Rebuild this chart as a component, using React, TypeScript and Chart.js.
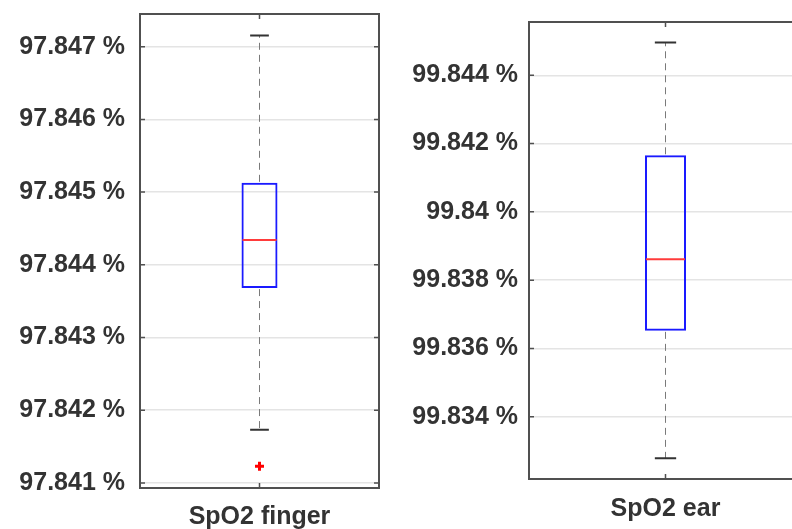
import React, { useEffect, useRef } from 'react';
import { Chart, registerables } from 'chart.js';

Chart.register(...registerables);

// ---- Data: SpO2 finger ----
const fingerCategory = ['SpO2 finger'];
const fingerBox = [97.84368, 97.845128]; // q1, q3
const fingerMedian = 97.84434;
const fingerWhiskers = [97.84173, 97.847155]; // low, high
const fingerOutliers = [97.84123];
const fingerTicks = [97.841, 97.842, 97.843, 97.844, 97.845, 97.846, 97.847];
const fingerTickLabels = ['97.841 %', '97.842 %', '97.843 %', '97.844 %', '97.845 %', '97.846 %', '97.847 %'];
const fingerRange = [97.84093, 97.84745];

// ---- Data: SpO2 ear ----
const earCategory = ['SpO2 ear'];
const earBox = [99.836515, 99.841657];
const earMedian = 99.838615;
const earWhiskers = [99.832782, 99.844957];
const earOutliers: number[] = [];
const earTicks = [99.834, 99.836, 99.838, 99.84, 99.842, 99.844];
const earTickLabels = ['99.834 %', '99.836 %', '99.838 %', '99.84 %', '99.842 %', '99.844 %'];
const earRange = [99.832176, 99.845561];

const FONT = { family: '"Liberation Sans", Arial, sans-serif', size: 25, weight: 'bold' as const };
const TEXT = '#333333';

const boxDecor = {
  id: 'boxDecor',
  afterDatasetsDraw(chart: any, _args: any, opts: any) {
    const { ctx, chartArea } = chart;
    const y = chart.scales.y;
    const bar = chart.getDatasetMeta(0).data[0];
    if (!bar) return;
    const cx = bar.x;
    const half = bar.width / 2;
    const capHalf = half * 0.52;
    const yQ1 = y.getPixelForValue(opts.box[0]);
    const yQ3 = y.getPixelForValue(opts.box[1]);
    const yLo = y.getPixelForValue(opts.whiskers[0]);
    const yHi = y.getPixelForValue(opts.whiskers[1]);
    const yMed = y.getPixelForValue(opts.median);
    ctx.save();
    // whiskers
    ctx.strokeStyle = '#7a7a7a';
    ctx.lineWidth = 1;
    ctx.setLineDash([7, 5]);
    ctx.beginPath();
    ctx.moveTo(cx, yQ3 - 1);
    ctx.lineTo(cx, yHi);
    ctx.moveTo(cx, yQ1 + 1);
    ctx.lineTo(cx, yLo);
    ctx.stroke();
    ctx.setLineDash([]);
    // caps
    ctx.strokeStyle = '#333333';
    ctx.lineWidth = 2;
    ctx.beginPath();
    ctx.moveTo(cx - capHalf, yHi);
    ctx.lineTo(cx + capHalf, yHi);
    ctx.moveTo(cx - capHalf, yLo);
    ctx.lineTo(cx + capHalf, yLo);
    ctx.stroke();
    // median
    ctx.strokeStyle = '#ff3b3b';
    ctx.lineWidth = 2;
    ctx.beginPath();
    ctx.moveTo(cx - half + 1, yMed);
    ctx.lineTo(cx + half - 1, yMed);
    ctx.stroke();
    // frame
    const { left, right, top, bottom } = chartArea;
    ctx.strokeStyle = '#505050';
    ctx.lineWidth = 2;
    ctx.strokeRect(left, top, right - left, bottom - top);
    // inward ticks
    ctx.lineWidth = 1.5;
    ctx.beginPath();
    y.ticks.forEach((t: any) => {
      const py = y.getPixelForValue(t.value);
      ctx.moveTo(left, py);
      ctx.lineTo(left + 5, py);
      ctx.moveTo(right, py);
      ctx.lineTo(right - 5, py);
    });
    ctx.moveTo(cx, top);
    ctx.lineTo(cx, top + 5);
    ctx.moveTo(cx, bottom);
    ctx.lineTo(cx, bottom - 5);
    ctx.stroke();
    ctx.restore();
  },
};

function makeConfig(p: any): any {
  return {
    type: 'bar',
    data: {
      labels: p.category,
      datasets: [
        {
          type: 'bar',
          data: [p.box],
          backgroundColor: 'rgba(0,0,0,0)',
          borderColor: '#1a1aff',
          borderWidth: 2,
          borderSkipped: false,
          barPercentage: p.barPct,
          categoryPercentage: 1,
        },
        {
          type: 'scatter',
          data: p.outliers.map((v: number) => ({ x: p.category[0], y: v })),
          pointStyle: 'cross',
          radius: 4.5,
          borderWidth: 3,
          borderColor: '#ff0000',
          backgroundColor: '#ff0000',
        },
      ],
    },
    options: {
      responsive: false,
      animation: false,
      devicePixelRatio: 1,
      events: [],
      layout: { padding: { top: p.padTop, right: p.padRight, left: 0, bottom: 0 } },
      plugins: {
        legend: { display: false },
        tooltip: { enabled: false },
        boxDecor: { box: p.box, whiskers: p.whiskers, median: p.median },
      },
      scales: {
        x: {
          type: 'category',
          grid: { display: false, drawTicks: false },
          border: { display: false },
          ticks: { font: FONT, color: TEXT, padding: p.xPad, maxRotation: 0 },
          afterFit: (s: any) => {
            s.height = p.xHeight;
            s.paddingLeft = 0;
            s.paddingRight = 0;
          },
        },
        y: {
          type: 'linear',
          min: p.range[0],
          max: p.range[1],
          grid: { color: '#e4e4e4', lineWidth: 1.5, drawTicks: false },
          border: { display: false },
          ticks: {
            font: FONT,
            color: TEXT,
            padding: p.yPad,
            autoSkip: false,
            callback: (_v: any, i: number) => p.tickLabels[i],
          },
          afterBuildTicks: (s: any) => {
            s.ticks = p.ticks.map((v: number) => ({ value: v }));
          },
          afterFit: (s: any) => {
            s.width = p.yWidth;
            s.paddingTop = 0;
            s.paddingBottom = 0;
          },
        },
      },
    },
    plugins: [boxDecor],
  };
}

export default function App() {
  const leftRef = useRef<HTMLCanvasElement>(null);
  const rightRef = useRef<HTMLCanvasElement>(null);

  useEffect(() => {
    const left = new Chart(
      leftRef.current as HTMLCanvasElement,
      makeConfig({
        category: fingerCategory,
        box: fingerBox,
        median: fingerMedian,
        whiskers: fingerWhiskers,
        outliers: fingerOutliers,
        ticks: fingerTicks,
        tickLabels: fingerTickLabels,
        range: fingerRange,
        barPct: 36 / 239,
        padTop: 14,
        padRight: 11,
        yWidth: 140,
        xHeight: 41,
        xPad: 14,
        yPad: 15,
      })
    );
    const right = new Chart(
      rightRef.current as HTMLCanvasElement,
      makeConfig({
        category: earCategory,
        box: earBox,
        median: earMedian,
        whiskers: earWhiskers,
        outliers: earOutliers,
        ticks: earTicks,
        tickLabels: earTickLabels,
        range: earRange,
        barPct: 41 / 273,
        padTop: 22,
        padRight: 18,
        yWidth: 139,
        xHeight: 50,
        xPad: 15,
        yPad: 11,
      })
    );
    return () => {
      left.destroy();
      right.destroy();
    };
  }, []);

  return (
    <div
      style={{
        position: 'fixed',
        left: 0,
        top: 0,
        width: 792,
        height: 529,
        overflow: 'hidden',
        background: '#ffffff',
      }}
    >
      <canvas ref={leftRef} width={390} height={529} style={{ position: 'absolute', left: 0, top: 0 }} />
      <canvas ref={rightRef} width={430} height={529} style={{ position: 'absolute', left: 390, top: 0 }} />
    </div>
  );
}
